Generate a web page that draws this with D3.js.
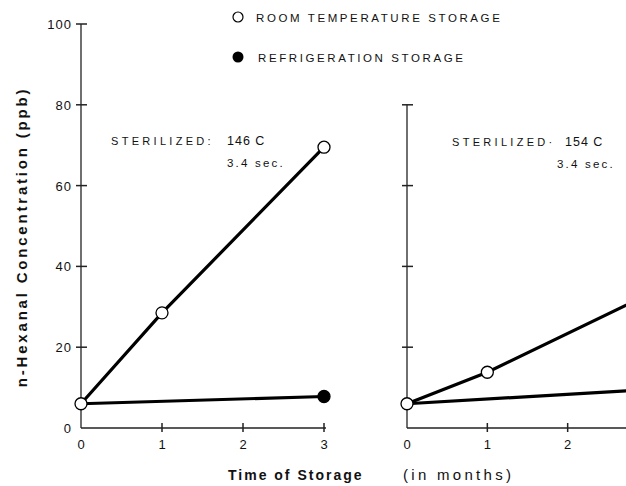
<!DOCTYPE html>
<html lang="en">
<head>
<meta charset="UTF-8">
<title>n-Hexanal</title>
<script src="https://cdn.jsdelivr.net/npm/d3@7"></script>
<style>
  body { margin: 0; background: #fff; }
  text { font-family: "Liberation Sans", Arial, sans-serif; fill: #111; }
</style>
</head>
<body>
<svg id="chart" width="626" height="486"></svg>
<script>
// data
var months = [0, 1, 2, 3];
var yTicks = [0, 20, 40, 60, 80, 100];
var rightYTicks = [0, 20, 40, 60, 80];

var room146 = [{m: 0, v: 6}, {m: 1, v: 28.5}, {m: 3, v: 69.5}];
var fridge146 = [{m: 0, v: 6}, {m: 3, v: 7.8}];
var room154 = [{m: 0, v: 6}, {m: 1, v: 13.8}, {m: 3, v: 33}];
var fridge154 = [{m: 0, v: 6}, {m: 3, v: 9.5}];

var svg = d3.select("#chart");

var y = d3.scaleLinear().domain([0, 100]).range([428, 24]);
var xL = d3.scaleLinear().domain([0, 3]).range([81, 324]);
var xR = d3.scaleLinear().domain([0, 3]).range([407, 648]);

var line = function (xs) {
    return d3.line().x(function (d) { return xs(d.m); }).y(function (d) { return y(d.v); });
};

// axes, ticks crossing the line
function drawAxes(xs, yt, showLabels, xEnd) {
    var g = svg.append("g");
    g.append("line").attr("x1", xs(0)).attr("x2", xs(0))
        .attr("y1", y(0)).attr("y2", y(yt[yt.length - 1]))
        .attr("stroke", "#222").attr("stroke-width", 1.3);
    g.append("line").attr("x1", xs(0)).attr("x2", xEnd)
        .attr("y1", y(0)).attr("y2", y(0))
        .attr("stroke", "#222").attr("stroke-width", 1.3);

    g.selectAll(".yt").data(yt.slice(1)).enter().append("line")
        .attr("x1", xs(0) - 5).attr("x2", xs(0) + 6)
        .attr("y1", function (d) { return y(d); }).attr("y2", function (d) { return y(d); })
        .attr("stroke", "#222").attr("stroke-width", 1.5);

    g.selectAll(".xt").data(months.slice(1)).enter().append("line")
        .attr("x1", function (d) { return xs(d); }).attr("x2", function (d) { return xs(d); })
        .attr("y1", y(0) - 5).attr("y2", y(0) + 4)
        .attr("stroke", "#222").attr("stroke-width", 1.5);

    g.selectAll(".xl").data(months.filter(function (d) { return xs(d) < 620; }))
        .enter().append("text")
        .attr("x", function (d) { return xs(d); }).attr("y", y(0) + 21)
        .attr("text-anchor", "middle").attr("font-size", 13)
        .text(function (d) { return d; });

    if (showLabels) {
        g.selectAll(".yl").data(yt).enter().append("text")
            .attr("x", xs(0) - 9).attr("y", function (d) { return y(d) + 5; })
            .attr("text-anchor", "end").attr("font-size", 13).attr("letter-spacing", 1)
            .text(function (d) { return d; });
    }
}

drawAxes(xL, yTicks, true, xL(3) + 2);
drawAxes(xR, rightYTicks, false, 640);

function series(data, xs, filled) {
    svg.append("path").datum(data).attr("d", line(xs))
        .attr("fill", "none").attr("stroke", "#000").attr("stroke-width", 3.2);
    svg.selectAll(null).data(data.slice(1).concat(filled ? [] : [data[0]])).enter().append("circle")
        .attr("cx", function (d) { return xs(d.m); })
        .attr("cy", function (d) { return y(d.v); })
        .attr("r", 6)
        .attr("fill", filled ? "#000" : "#fff")
        .attr("stroke", "#000").attr("stroke-width", 1.3);
}

series(fridge146, xL, true);
series(room146, xL, false);
series(fridge154, xR, true);
series(room154, xR, false);

// legend
svg.append("circle").attr("cx", 238).attr("cy", 17).attr("r", 5)
    .attr("fill", "#fff").attr("stroke", "#000").attr("stroke-width", 1.2);
svg.append("text").attr("x", 256).attr("y", 22).attr("font-size", 11.5)
    .attr("letter-spacing", 2.6).text("ROOM TEMPERATURE STORAGE");
svg.append("circle").attr("cx", 238).attr("cy", 57).attr("r", 5.5).attr("fill", "#000");
svg.append("text").attr("x", 258).attr("y", 62).attr("font-size", 11.5)
    .attr("letter-spacing", 2.6).text("REFRIGERATION STORAGE");

// annotations
function note(x, yy, label, temp, tOff, sOff) {
    svg.append("text").attr("x", x).attr("y", yy).attr("font-size", 11)
        .attr("letter-spacing", 3.3).text(label);
    svg.append("text").attr("x", x + tOff).attr("y", yy).attr("font-size", 12.5)
        .attr("letter-spacing", 1).text(temp);
    svg.append("text").attr("x", x + sOff).attr("y", yy + 22).attr("font-size", 11.5)
        .attr("letter-spacing", 2.2).text("3.4 sec.");
}
note(111, 145, "STERILIZED:", "146 C", 116, 116);
note(452, 146, "STERILIZED\u00b7", "154 C", 113, 105);

// axis titles
svg.append("text").attr("transform", "translate(27,237) rotate(-90)")
    .attr("text-anchor", "middle").attr("font-size", 15).attr("font-weight", "bold")
    .attr("letter-spacing", 2.8).text("n-Hexanal Concentration (ppb)");
svg.append("text").attr("x", 228).attr("y", 480).attr("font-size", 14)
    .attr("font-weight", "bold").attr("letter-spacing", 2).text("Time of Storage");
svg.append("text").attr("x", 403).attr("y", 480).attr("font-size", 15)
    .attr("letter-spacing", 3.3).text("(in months)");
</script>
</body>
</html>
